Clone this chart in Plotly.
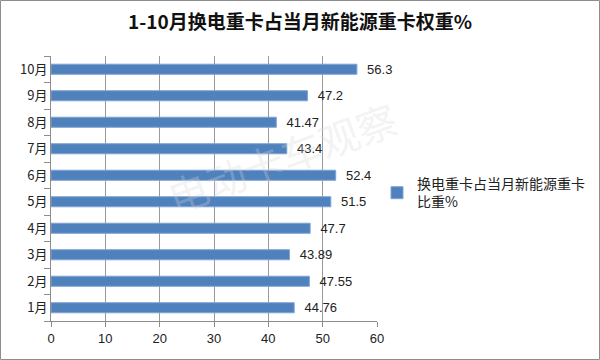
import plotly.graph_objects as go

months = ["1月", "2月", "3月", "4月", "5月", "6月", "7月", "8月", "9月", "10月"]
values = [44.76, 47.55, 43.89, 47.7, 51.5, 52.4, 43.4, 41.47, 47.2, 56.3]
labels = ["44.76", "47.55", "43.89", "47.7", "51.5", "52.4", "43.4", "41.47", "47.2", "56.3"]
series_name = "换电重卡占当月新能源重卡<br>比重%"
title = "1-10月换电重卡占当月新能源重卡权重%"
x_ticks = [0, 10, 20, 30, 40, 50, 60]

W, H = 600, 360
ml, mr, mt, mb = 51, 223, 56, 39
pw = W - ml - mr
ph = H - mt - mb

fig = go.Figure()
fig.add_trace(go.Bar(
    y=months, x=values, orientation="h", name=series_name,
    text=labels, texttemplate="\u00a0\u00a0%{text}",
    textposition="outside", cliponaxis=False, constraintext="none",
    textfont=dict(family="Liberation Sans, Noto Sans CJK SC", size=13, color="#222222"),
    marker=dict(color="#4F81BD", line=dict(color="#7FA3D3", width=1)),
    showlegend=True,
))

fig.update_layout(
    width=W, height=H,
    margin=dict(l=ml, r=mr, t=mt, b=mb, autoexpand=False),
    paper_bgcolor="white", plot_bgcolor="white",
    bargap=0.62,
    title=dict(text="<b>" + title + "</b>", x=0.5, xref="container", xanchor="center",
               y=1 - 22 / H, yref="container", yanchor="middle",
               font=dict(family="Noto Sans CJK SC", size=19, color="#111111")),
    font=dict(family="Noto Sans CJK SC", size=13, color="#222222"),
    legend=dict(x=(377 - ml) / pw, xanchor="left", y=(H - mb - 193) / ph, yanchor="middle",
                font=dict(family="Noto Sans CJK SC", size=14, color="#222222"),
                bgcolor="rgba(0,0,0,0)"),
    xaxis=dict(range=[0, 60], tickvals=x_ticks, showgrid=True, gridcolor="#9a9a9a", gridwidth=1,
               showline=True, linecolor="#8c8c8c", linewidth=1, ticks="outside", ticklen=5,
               tickcolor="#8c8c8c", zeroline=False, automargin=False,
               tickfont=dict(family="Liberation Sans", size=13, color="#222222")),
    yaxis=dict(categoryorder="array", categoryarray=months, showline=True, linecolor="#8c8c8c",
               linewidth=1, ticks="outside", ticklen=6, tickcolor="#8c8c8c", tickson="boundaries",
               showgrid=False, automargin=False,
               tickfont=dict(family="Noto Sans CJK SC", size=13, color="#222222")),
)

# watermark
fig.add_annotation(text="电动卡车观察", xref="paper", yref="paper",
                   x=(282 - ml) / pw, y=(H - mb - 157) / ph, xanchor="center", yanchor="middle",
                   showarrow=False, textangle=-20,
                   font=dict(family="Noto Sans CJK SC", size=40, color="rgba(215,215,215,0.3)"))

# outer border
fig.add_shape(type="rect", xref="paper", yref="paper",
              x0=(-ml + 0.5) / pw, x1=(W - ml - 0.5) / pw,
              y0=(-mb + 0.5) / ph, y1=(H - mb - 0.5) / ph,
              line=dict(color="#8c8c8c", width=1), fillcolor="rgba(0,0,0,0)", layer="below")

fig.write_html("out.html", config={"displayModeBar": False},
               post_script="document.body.style.margin='0';")
